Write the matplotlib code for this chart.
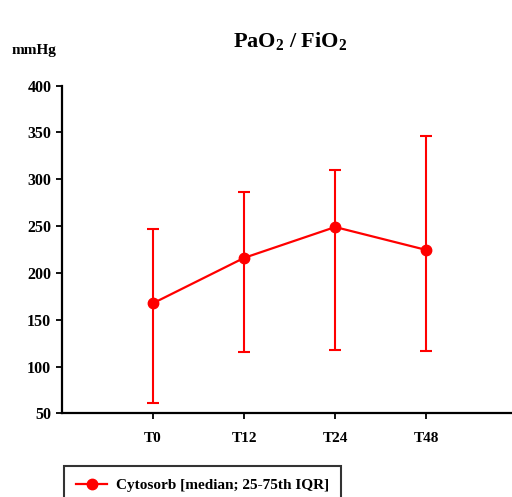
import matplotlib
matplotlib.use("Agg")
import matplotlib.pyplot as plt
from matplotlib.lines import Line2D
import numpy as np

categories = ["T0", "T12", "T24", "T48"]
median = [167.5, 216, 249, 224.5]
q25 = [61, 115, 118, 117]
q75 = [247, 286, 310, 346]
yticks = [50, 100, 150, 200, 250, 300, 350, 400]

plt.rcParams['font.family'] = ['Liberation Serif', 'DejaVu Serif']
plt.rcParams['font.weight'] = 'bold'
plt.rcParams['mathtext.fontset'] = 'custom'
plt.rcParams['mathtext.rm'] = 'Liberation Serif:bold'
plt.rcParams['mathtext.bf'] = 'Liberation Serif:bold'
plt.rcParams['mathtext.it'] = 'Liberation Serif:bold'
plt.rcParams['mathtext.default'] = 'bf'

fig = plt.figure(figsize=(5.12, 4.97), dpi=100)
ax = fig.add_axes([0.1205, 0.1684, 0.8795, 0.6592])

x = np.arange(1, len(categories) + 1)
med = np.array(median)
lo = med - np.array(q25)
hi = np.array(q75) - med
red = '#ff0000'
ax.errorbar(x, med, yerr=[lo, hi], color=red, lw=1.6, elinewidth=1.5,
            capsize=4.5, capthick=1.5, marker='o', markersize=7.5)

ax.set_xlim(0, 4.94)
ax.set_ylim(50, 400)
ax.set_xticks(x)
ax.set_xticklabels(categories, fontsize=11, fontweight='bold')
ax.set_yticks(yticks)
ax.set_yticklabels([str(v) for v in yticks], fontsize=11.5, fontweight='bold')
ax.tick_params(axis='y', direction='out', length=4.5, width=1.3, pad=3)
ax.tick_params(axis='x', direction='out', length=4.5, width=1.3, pad=9)
for s in ['top', 'right']:
    ax.spines[s].set_visible(False)
for s in ['left', 'bottom']:
    ax.spines[s].set_linewidth(1.6)

fig.text(0.566, 0.918, r'PaO$_{2}$ / FiO$_{2}$', ha='center', va='center',
         fontsize=16, fontweight='bold')
fig.text(0.023, 0.899, 'mmHg', ha='left', va='center', fontsize=11, fontweight='bold')

handle = Line2D([], [], color=red, lw=1.6, marker='o', markersize=7.5)
leg = fig.legend([handle], ['Cytosorb [median; 25-75th IQR]'], loc='upper left',
                 bbox_to_anchor=(64/512, 1 - 466/497), borderaxespad=0, frameon=True,
                 fancybox=False, edgecolor='black', prop={'size': 11, 'weight': 'bold'},
                 borderpad=0.8, handlelength=2.0, handletextpad=0.6)
leg.get_frame().set_linewidth(1.5)

fig.savefig('out.png', dpi=100)
